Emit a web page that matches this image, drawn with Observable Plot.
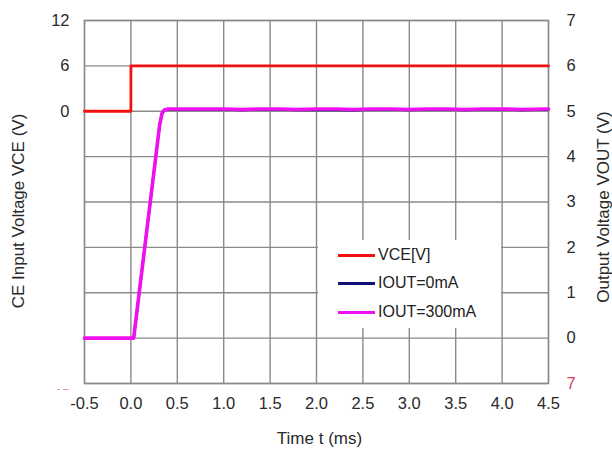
<!DOCTYPE html>
<html>
<head>
<meta charset="utf-8">
<script src="https://cdn.jsdelivr.net/npm/d3@7"></script>
<script src="https://cdn.jsdelivr.net/npm/@observablehq/plot@0.6"></script>
<style>
  html, body { margin: 0; padding: 0; background: #fff; }
  #wrap { position: relative; width: 612px; height: 449px; font-family: "Liberation Sans", Arial, sans-serif; }
  #legend { position: absolute; left: 318px; top: 240px; width: 183px; height: 88px; background: #fff; }
  .row { position: absolute; left: 20px; height: 20px; display: flex; align-items: center; font-size: 16px; color: #222; }
  .sw { width: 37px; height: 3px; margin-right: 3px; }
</style>
</head>
<body>
<div id="wrap"></div>
<script>
// ---- data ----
const xTicks = [-0.5, 0.0, 0.5, 1.0, 1.5, 2.0, 2.5, 3.0, 3.5, 4.0, 4.5];
const xLabels = ["-0.5", "0.0", "0.5", "1.0", "1.5", "2.0", "2.5", "3.0", "3.5", "4.0", "4.5"];
const rightTicks = [0, 1, 2, 3, 4, 5, 6, 7];
const leftTickValues = [0, 6, 12];          // VCE axis (V)

// VCE[V] trace (left axis units)
const vceTime = [-0.5, 0.0, 0.0, 0.8, 1.6, 2.4, 3.2, 4.0, 4.5];
const vceVolt = [0, 0, 6, 6.01, 6.0, 6.0, 6.0, 6.0, 6.0];

// VOUT, IOUT=300mA (right axis units)
const outTime = [-0.5, 0.03, 0.31, 0.335, 0.36, 0.4, 0.6, 0.8, 1.0, 1.2, 1.4, 1.6, 1.8, 2.0, 2.2, 2.4, 2.6, 2.8, 3.0, 3.2, 3.4, 3.6, 3.8, 4.0, 4.2, 4.5];
const out300 = [0, 0, 4.7, 4.95, 5.03, 5.05, 5.05, 5.05, 5.05, 5.04, 5.05, 5.05, 5.04, 5.05, 5.05, 5.04, 5.05, 5.05, 5.04, 5.05, 5.05, 5.04, 5.05, 5.05, 5.04, 5.05];
// VOUT, IOUT=0mA (mostly hidden under the 300mA trace)
const out0 = [0, 0, 4.7, 4.95, 5.03, 5.04, 5.04, 5.04, 5.04, 5.03, 5.04, 5.04, 5.03, 5.03, 5.03, 5.02, 5.04, 5.04, 5.03, 5.04, 5.04, 5.03, 5.04, 5.04, 5.03, 5.04];

const legendNames = ["VCE[V]", "IOUT=0mA", "IOUT=300mA"];
const colors = ["#f21010", "#10107a", "#ee10ee"];

// left axis (VCE) is drawn against the right (VOUT) scale: 0 V -> 5, 6 V -> 6, 12 V -> 7
const vceToOut = v => 5 + v / 6;

const vceData = vceTime.map((t, i) => ({t, v: vceToOut(vceVolt[i])}));
const d300 = outTime.map((t, i) => ({t, v: out300[i]}));
const d0 = outTime.map((t, i) => ({t, v: out0[i]}));

const font = '"Liberation Sans", Arial, sans-serif';
const ink = "#2a2a2a";
const grid = "#8a8a8a";
const fs = 16.5;

const chart = Plot.plot({
  width: 612,
  height: 449,
  marginLeft: 84,
  marginRight: 64,
  marginTop: 20,
  marginBottom: 66,
  style: {fontFamily: font, fontSize: "16.5px", color: ink, background: "#fff"},
  x: {domain: [-0.5, 4.5]},
  y: {domain: [-1, 7]},
  marks: [
    Plot.gridX(xTicks, {stroke: grid, strokeOpacity: 1, strokeWidth: 1.4}),
    Plot.gridY([-1, ...rightTicks], {stroke: grid, strokeOpacity: 1, strokeWidth: 1.4}),
    Plot.frame({stroke: grid, strokeWidth: 1.4}),
    Plot.line(d0, {x: "t", y: "v", stroke: colors[1], strokeWidth: 2.5}),
    Plot.line(d300, {x: "t", y: "v", stroke: colors[2], strokeWidth: 3.6, strokeLinejoin: "round"}),
    Plot.line(vceData, {x: "t", y: "v", stroke: colors[0], strokeWidth: 2.8}),
    Plot.axisX(xTicks, {anchor: "bottom", tickSize: 0, tickPadding: 14, fontSize: fs, tickFormat: (d, i) => xLabels[i], label: null, fill: ink}),
    Plot.axisY(rightTicks, {anchor: "right", tickSize: 0, tickPadding: 18, fontSize: fs, textAnchor: "start", label: null, fill: ink}),
    Plot.axisY([-1], {anchor: "right", tickSize: 0, tickPadding: 18, fontSize: fs, textAnchor: "start", tickFormat: () => "7", label: null, fill: "#d8405a"}),
    Plot.axisY(leftTickValues.map(vceToOut), {anchor: "left", tickSize: 0, tickPadding: 15, fontSize: fs, tickFormat: (d, i) => String(leftTickValues[i]), label: null, fill: ink}),
    Plot.axisY([-1], {anchor: "left", tickSize: 0, tickPadding: 16, dy: 5, tickFormat: () => "- \u2013", label: null, fill: "#e87890", fontSize: 10}),
    Plot.text(["CE Input Voltage VCE (V)"], {frameAnchor: "left", textAnchor: "middle", lineAnchor: "middle", dx: -66, dy: 9, rotate: -90, fill: ink, fontSize: 17}),
    Plot.text(["Output Voltage VOUT (V)"], {frameAnchor: "right", textAnchor: "middle", lineAnchor: "middle", dx: 55, dy: 5, rotate: -90, fill: ink, fontSize: 17}),
    Plot.text(["Time t (ms)"], {frameAnchor: "bottom", textAnchor: "middle", lineAnchor: "middle", dx: 3, dy: 55, fill: ink, fontSize: 17})
  ]
});

const wrap = document.getElementById("wrap");
wrap.appendChild(chart);

// legend (inside the plot, white box over the grid)
const legend = document.createElement("div");
legend.id = "legend";
const rowTops = [5, 33, 62];
legendNames.forEach((name, i) => {
  const row = document.createElement("div");
  row.className = "row";
  row.style.top = rowTops[i] + "px";
  const sw = document.createElement("div");
  sw.className = "sw";
  sw.style.background = colors[i];
  const label = document.createElement("span");
  label.textContent = name;
  row.appendChild(sw);
  row.appendChild(label);
  legend.appendChild(row);
});
wrap.appendChild(legend);
</script>
</body>
</html>
